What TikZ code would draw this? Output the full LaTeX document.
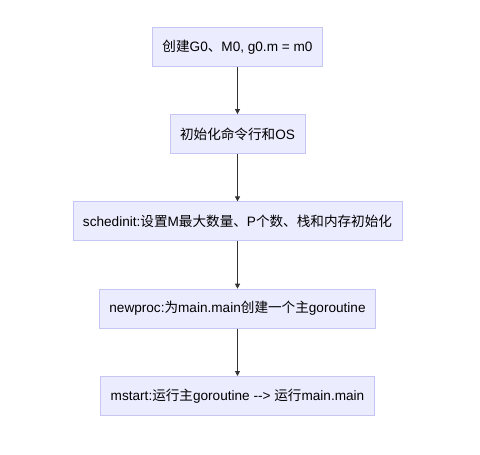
\documentclass[tikz,border=0pt]{standalone}
\usepackage{fontspec}
\setmainfont{Liberation Sans}
\newfontfamily\cjk{Noto Sans CJK SC}
\usetikzlibrary{positioning, arrows.meta}
\usepackage{xcolor}
\definecolor{boxfill}{HTML}{ECECFF}
\definecolor{boxline}{HTML}{C6C6F4}
\definecolor{linkcol}{HTML}{333333}

\begin{document}
\begin{tikzpicture}[x=1pt, y=1pt, node distance=47.5pt]
          \tikzstyle{proc} = [rectangle, draw=boxline, fill=boxfill, line width=0.8pt,
            minimum height=39pt, inner xsep=10pt, font=\fontsize{13.6}{16}\selectfont]
          \tikzstyle{link} = [draw=linkcol, line width=0.8pt, -{Triangle[length=5pt, width=5pt]}]
          \useasboundingbox (0,0) rectangle (480,-455);

          % Pasos de arranque
          \node[proc] (creat) at (237.5,-46.7) {{\cjk 创建}G0{\cjk 、}M0, g0.m = m0};
          \node[proc, below=of creat] (args) {{\cjk 初始化命令行和}OS};
          \node[proc, below=of args] (sched) {schedinit:{\cjk 设置}M{\cjk 最大数量、}P{\cjk 个数、栈和内存初始化}};
          \node[proc, below=of sched] (newp) {newproc:{\cjk 为}main.main{\cjk 创建一个主}goroutine};
          \node[proc, below=of newp] (mst) {mstart:{\cjk 运行主}goroutine -{}-> {\cjk 运行}main.main};

          % Flechas
          \foreach \a/\b in {creat/args, args/sched, sched/newp, newp/mst}
            \draw[link] (\a) -- (\b);
        \end{tikzpicture}
\end{document}
